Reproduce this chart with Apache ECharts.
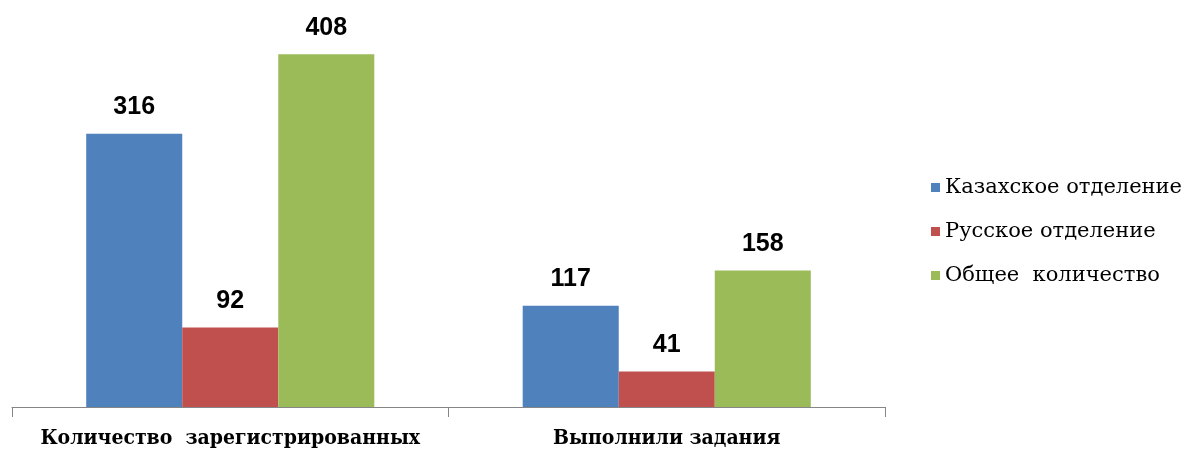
<!DOCTYPE html>
<html>
<head>
<meta charset="utf-8">
<script src="https://cdn.jsdelivr.net/npm/echarts@6/dist/echarts.min.js"></script>
<style>
  html, body { margin: 0; padding: 0; background: #fff; }
  #chart { width: 1189px; height: 452px; }
</style>
</head>
<body>
<div id="chart"></div>
<script>
const categories = ['Количество  зарегистрированных', 'Выполнили задания'];
const seriesNames = ['Казахское отделение', 'Русское отделение', 'Общее  количество'];
const kazakh = [316, 117];
const russian = [92, 41];
const total = [408, 158];
const colors = ['#4f81bd', '#c0504d', '#9bbb59'];

const labelStyle = {
    show: true,
    position: 'top',
    distance: 14,
    color: '#000',
    fontFamily: '"Liberation Sans Narrow", "Liberation Sans", sans-serif',
    fontWeight: 'bold',
    fontSize: 25
};

const makeSeries = (name, data, color) => ({
    name: name,
    type: 'bar',
    data: data,
    barGap: '0%',
    barCategoryGap: '34%',
    itemStyle: { color: color },
    label: labelStyle
});

const chart = echarts.init(document.getElementById('chart'));
chart.setOption({
    animation: false,
    grid: { left: 12, right: 304, top: 18, bottom: 45 },
    legend: {
        orient: 'vertical',
        left: 926,
        top: 172,
        itemWidth: 9,
        itemHeight: 9,
        itemGap: 23,
        icon: 'rect',
        data: seriesNames,
        textStyle: {
            fontFamily: '"DejaVu Serif", "Liberation Serif", serif',
            fontSize: 21,
            color: '#000'
        }
    },
    xAxis: {
        type: 'category',
        data: categories,
        axisLine: { lineStyle: { color: '#868686', width: 1 } },
        axisTick: { show: true, interval: 0, length: 10, lineStyle: { color: '#868686' } },
        axisLabel: {
            interval: 0,
            margin: 21,
            color: '#000',
            fontFamily: '"DejaVu Serif Condensed", "DejaVu Serif", serif',
            fontWeight: 'bold',
            fontSize: 21
        }
    },
    yAxis: {
        type: 'value',
        min: 0,
        max: 450,
        show: false,
        splitLine: { show: false }
    },
    series: [
        makeSeries(seriesNames[0], kazakh, colors[0]),
        makeSeries(seriesNames[1], russian, colors[1]),
        makeSeries(seriesNames[2], total, colors[2])
    ]
});
</script>
</body>
</html>
